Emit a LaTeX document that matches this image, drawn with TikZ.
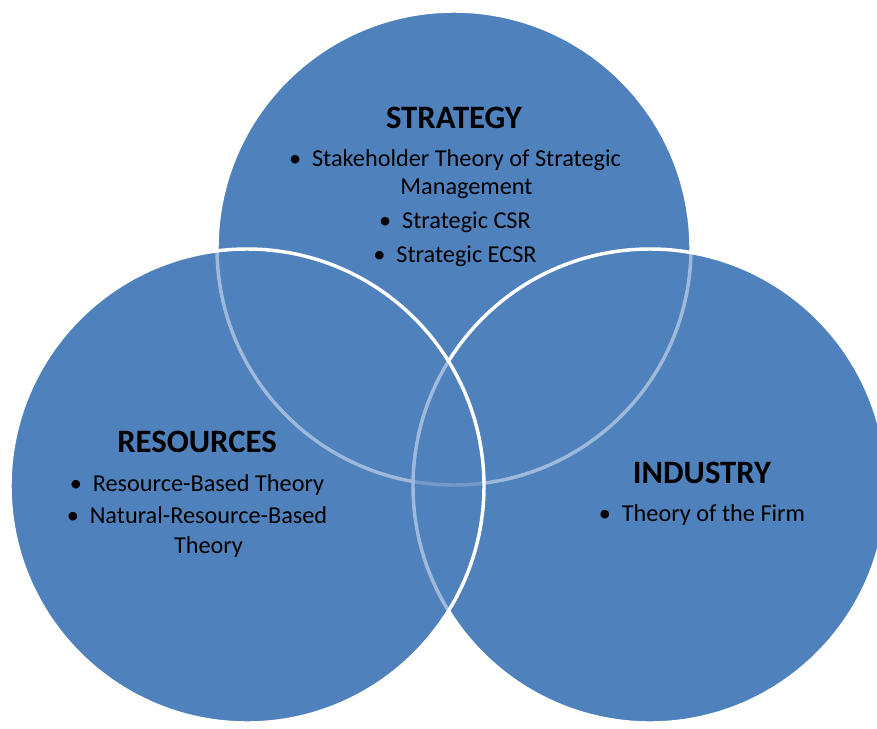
\documentclass[tikz,border=0pt]{standalone}
\usepackage{fontspec}
\setmainfont{Carlito}
\definecolor{vennblue}{RGB}{79,129,189}
\tikzset{
  venn/.style={fill=vennblue,fill opacity=0.55,draw=white,draw opacity=1,line width=2.6},
  head/.style={font=\fontsize{24.5}{28}\selectfont\bfseries,inner sep=0pt},
  items/.style={font=\fontsize{18.2}{21}\selectfont,align=center,inner sep=0pt}
}
\newcommand{\bul}{\textbullet\hspace{0.45em}}
\newcommand{\hang}{\phantom{\textbullet\hspace{0.45em}}}
\begin{document}
\begin{tikzpicture}[x=0.75pt,y=-0.75pt]
		\useasboundingbox (0,0) rectangle (877,728);
		\clip (0,0) rectangle (877,728);
		\coordinate (S) at (454,248);
		\coordinate (R) at (247,486);
		\coordinate (I) at (650,486);
		% solid base, then the three rings one over the other
		\fill[vennblue] (S) circle (237) (R) circle (237) (I) circle (237);
		\draw[venn] (S) circle (237);
		\draw[venn] (I) circle (237);
		\draw[venn] (R) circle (237);
		% base of a list node is its last line
		\node[head,anchor=base] (strategy) at (454,128) {STRATEGY};
		\node[items,anchor=base] (strategyitems) at (455,262)
			{\bul Stakeholder Theory of Strategic\\ \hang Management\\[4.5pt]
			 \bul Strategic CSR\\[4.5pt] \bul Strategic ECSR};
		\node[head,anchor=base] (resources) at (197,452) {RESOURCES};
		\node[items,anchor=base] (resourceitems) at (197,553)
			{\bul Resource-Based Theory\\[3pt] \bul Natural-Resource-Based\\[1.5pt] \hang Theory};
		\node[head,anchor=base] (industry) at (702,483) {INDUSTRY};
		\node[items,anchor=base] (industryitems) at (702,521) {\bul Theory of the Firm};
	\end{tikzpicture}
\end{document}
